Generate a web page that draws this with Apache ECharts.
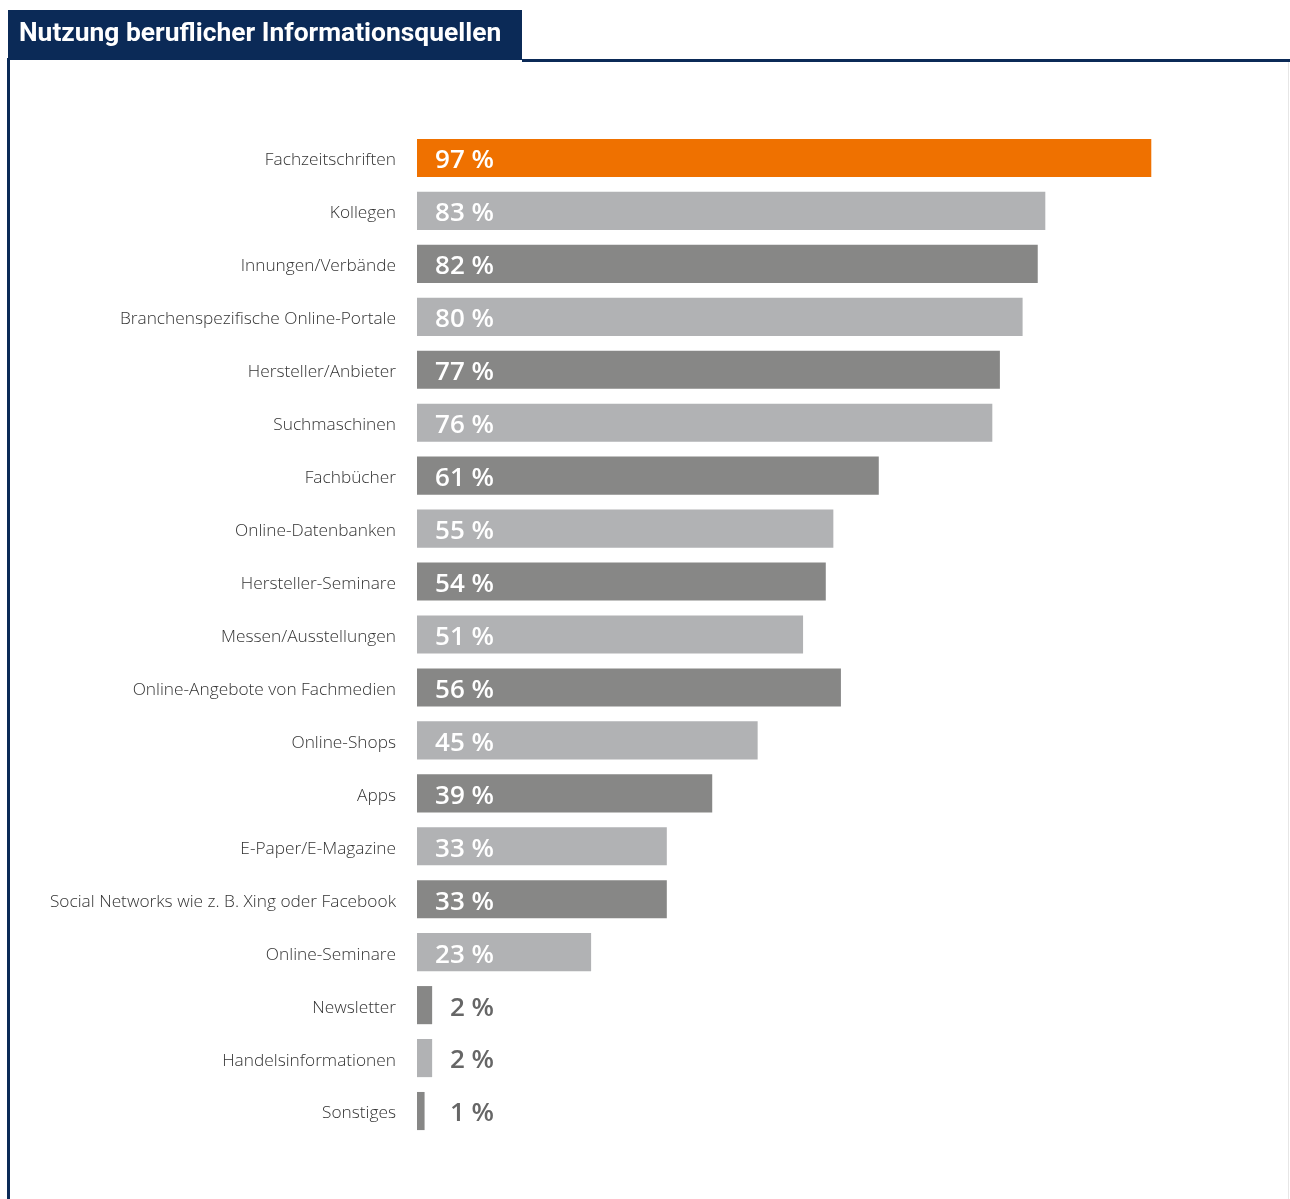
<!DOCTYPE html>
<html><head><meta charset="utf-8">
<script src="https://cdn.jsdelivr.net/npm/echarts@6/dist/echarts.min.js"></script>
<style>html,body{margin:0;padding:0;background:#fff}#c{width:1290px;height:1199px}</style>
</head><body><div id="c"></div>
<script>
const titleText = 'Nutzung beruflicher Informationsquellen';
const categories = ['Fachzeitschriften','Kollegen','Innungen/Verbände','Branchenspezifische Online-Portale','Hersteller/Anbieter','Suchmaschinen','Fachbücher','Online-Datenbanken','Hersteller-Seminare','Messen/Ausstellungen','Online-Angebote von Fachmedien','Online-Shops','Apps','E-Paper/E-Magazine','Social Networks wie z. B. Xing oder Facebook','Online-Seminare','Newsletter','Handelsinformationen','Sonstiges'];
const values = [97,83,82,80,77,76,61,55,54,51,56,45,39,33,33,23,2,2,1];

const ORANGE='#ef7100', LIGHT='#b1b2b4', DARK='#878786', NAVY='#0b2a57';
const chart = echarts.init(document.getElementById('c'));
const data = values.map((v,i)=>({
  value:v,
  itemStyle:{color: i===0?ORANGE:(i%2===1?LIGHT:DARK)},
  label:{color: v<10?'#666666':'#ffffff'}
}));
chart.setOption({
  animation:false,
  graphic:[
    {type:'rect',shape:{x:8,y:10,width:514,height:50},style:{fill:NAVY},z:1},
    {type:'rect',shape:{x:522,y:59,width:768,height:3},style:{fill:NAVY},z:1},
    {type:'rect',shape:{x:7,y:58,width:3,height:1141},style:{fill:NAVY},z:1},
    {type:'rect',shape:{x:1288,y:62,width:1,height:1137},style:{fill:'#e6e6e6'},z:1},
    {type:'text',left:19,top:21,style:{text:titleText,fill:'#ffffff',font:'bold 26.4px Roboto'},z:2}
  ],
  grid:{left:417,right:116,top:131.5,bottom:61.5,containLabel:false},
  xAxis:{type:'value',min:0,max:100,show:false},
  yAxis:{type:'category',inverse:true,data:categories,
    axisLine:{show:false},axisTick:{show:false},
    axisLabel:{margin:21,formatter:v=>'{a|'+v+'}',
      rich:{a:{color:'#333333',fontSize:17.3,fontFamily:'Open Sans',fontWeight:300,padding:[5,0,0,0]}}}},
  series:[{type:'bar',data:data,barCategoryGap:'28%',
    label:{show:true,position:[77,'50%'],align:'right',verticalAlign:'middle',offset:[0,3],
      formatter:p=>p.value+' %',fontSize:26,fontWeight:600,fontFamily:'Open Sans'}}]
});
</script></body></html>
